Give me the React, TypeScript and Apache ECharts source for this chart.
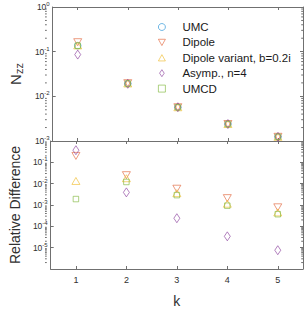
import React, { useEffect, useRef } from "react";
import * as echarts from "echarts";

const kValues = [1, 2, 3, 4, 5];
const seriesNames = ["UMC", "Dipole", "Dipole variant, b=0.2i", "Asymp., n=4", "UMCD"];
const nzzUMC = [0.136, 0.0192, 0.0057, 0.0024, 0.00124];
const nzzDipole = [0.163, 0.0197, 0.0057, 0.0024, 0.00124];
const nzzVariant = [0.138, 0.0194, 0.0057, 0.0024, 0.00124];
const nzzAsymp = [0.086, 0.0191, 0.0057, 0.0024, 0.00124];
const nzzUMCD = [0.136, 0.0194, 0.0057, 0.0024, 0.00124];
const relDipole = [0.2, 0.025, 0.0058, 0.0021, 0.00078];
const relVariant = [0.0134, 0.018, 0.0036, 0.00115, 0.00045];
const relAsymp = [0.37, 0.0039, 0.00024, 3.4e-5, 7.6e-6];
const relUMCD = [0.0019, 0.012, 0.0029, 0.00093, 0.00037];

const colors = ["#1f8fd6", "#e2643a", "#f0bb2c", "#8a3f9c", "#7fb63a"];
const symbols = ["circle", "triangle", "triangle", "diamond", "rect"];
const legendIcons = [
  "path://M5,0 A5,5 0 1,1 4.99,0 Z",
  "path://M0,0 L10,0 L5,9 Z",
  "path://M5,0 L10,9 L0,9 Z",
  "path://M3,0 L6,4.5 L3,9 L0,4.5 Z",
  "path://M0,0 L8,0 L8,8 L0,8 Z",
];
const rotations = [0, 180, 0, 0, 0];
const sizes: any[] = [6.5, [8, 7], [8, 7], [6, 9], 5.5];

const AXIS = "#707070";
const TXT = "#303030";
const FONT = "Liberation Sans, Arial, Helvetica, sans-serif";

function pairs(vals: number[]) {
  return kValues.map((k, i) => [k, vals[i]]);
}

function expLabel(v: number) {
  const e = Math.round(Math.log10(v));
  return `{b|10}{s|${e}}`;
}

const richLabel = {
  b: { fontSize: 8.5, color: TXT, fontFamily: FONT },
  s: { fontSize: 6, color: TXT, fontFamily: FONT, padding: [0, 0, 6, 0] },
};

export default function App() {
  const ref = useRef<HTMLDivElement>(null);
  useEffect(() => {
    if (!ref.current) return;
    const chart = echarts.init(ref.current, null, { renderer: "svg" });
    const topData = [nzzUMC, nzzDipole, nzzVariant, nzzAsymp, nzzUMCD];
    const botData = [null, relDipole, relVariant, relAsymp, relUMCD];

    const xCommon = (gridIndex: number, position: string, labels: boolean) => ({
      type: "value",
      gridIndex,
      position,
      min: 0.5,
      max: 5.5,
      axisLine: { show: true, lineStyle: { color: AXIS, width: 1 } },
      axisTick: { show: true, inside: true, length: 3, customValues: kValues, lineStyle: { color: AXIS } },
      axisLabel: {
        show: labels,
        customValues: kValues,
        fontSize: 9,
        color: TXT,
        fontFamily: FONT,
        margin: 6,
      },
      splitLine: { show: false },
    });

    const yCommon = (gridIndex: number, position: string, min: number, labels: boolean, hide: number[]) => ({
      type: "log",
      logBase: 10,
      gridIndex,
      position,
      min,
      max: 1,
      axisLine: { show: true, lineStyle: { color: AXIS, width: 1 } },
      axisTick: { show: true, inside: true, length: 3, lineStyle: { color: AXIS } },
      axisLabel: {
        show: labels,
        margin: 3,
        formatter: (v: number) => {
          for (const h of hide) if (Math.abs(Math.log10(v) - Math.log10(h)) < 1e-6) return "";
          return expLabel(v);
        },
        rich: richLabel,
      },
      splitLine: { show: false },
    });

    const series: any[] = [];
    seriesNames.forEach((name, i) => {
      const base = {
        name,
        type: "scatter",
        symbol: symbols[i],
        symbolRotate: rotations[i],
        symbolSize: sizes[i],
        itemStyle: { color: "rgba(255,255,255,0)", borderColor: colors[i], borderWidth: 0.8 },
        emphasis: { disabled: true },
      };
      series.push({ ...base, xAxisIndex: 0, yAxisIndex: 0, data: pairs(topData[i]) });
      const b = botData[i];
      if (b) series.push({ ...base, xAxisIndex: 2, yAxisIndex: 2, data: pairs(b) });
    });

    const option: any = {
      animation: false,
      grid: [
        { left: 45, top: 7, width: 258, height: 134 },
        { left: 45, top: 141, width: 258, height: 133 },
      ],
      xAxis: [
        xCommon(0, "bottom", false),
        xCommon(0, "top", false),
        {
          ...xCommon(1, "bottom", true),
          name: "k",
          nameLocation: "middle",
          nameGap: 25,
          nameTextStyle: { fontSize: 14, color: TXT, fontFamily: FONT },
        },
        xCommon(1, "top", false),
      ],
      yAxis: [
        {
          ...yCommon(0, "left", 1e-3, true, []),
          name: "{n|N}{z|zz}",
          nameLocation: "middle",
          nameGap: 27,
          nameRotate: 90,
          nameTextStyle: {
            rich: {
              n: { fontSize: 15, color: TXT, fontFamily: FONT },
              z: { fontSize: 11, color: TXT, fontFamily: FONT, padding: [0, 0, -6, 0] },
            },
          },
        },
        yCommon(0, "right", 1e-3, false, []),
        {
          ...yCommon(1, "left", 1e-6, true, [1, 1e-6]),
          name: "Relative Difference",
          nameLocation: "middle",
          nameGap: 28,
          nameRotate: 90,
          nameTextStyle: { fontSize: 14, color: TXT, fontFamily: FONT },
        },
        yCommon(1, "right", 1e-6, false, []),
      ],
      legend: {
        data: seriesNames.map((n, i) => ({ name: n, icon: legendIcons[i] })),
        orient: "vertical",
        left: 153,
        top: 16,
        itemGap: 3.4,
        itemWidth: 7,
        itemHeight: 7,
        itemStyle: { borderWidth: 0.8 },
        textStyle: { fontSize: 11.5, color: "#1a1a1a", fontFamily: FONT, padding: [0, 0, 0, 12] },
        selectedMode: false,
      },
      series,
    };
    chart.setOption(option);

    const graphics: any[] = [];
    const minorFor = (yAxisIndex: number, lo: number, hi: number, xl: number, xr: number) => {
      for (let d = lo; d < hi; d++) {
        for (let m = 2; m <= 9; m++) {
          const v = m * Math.pow(10, d);
          const py = chart.convertToPixel({ yAxisIndex } as any, v) as number;
          graphics.push({ type: "line", shape: { x1: xl, y1: py, x2: xl + 1.8, y2: py }, style: { stroke: AXIS, lineWidth: 1 }, silent: true });
          graphics.push({ type: "line", shape: { x1: xr - 1.8, y1: py, x2: xr, y2: py }, style: { stroke: AXIS, lineWidth: 1 }, silent: true });
        }
      }
    };
    minorFor(0, -3, 0, 45, 303);
    minorFor(2, -6, 0, 45, 303);
    chart.setOption({ graphic: graphics });

    return () => chart.dispose();
  }, []);
  return <div ref={ref} style={{ width: 308, height: 309, position: "absolute", left: 0, top: 0 }} />;
}
